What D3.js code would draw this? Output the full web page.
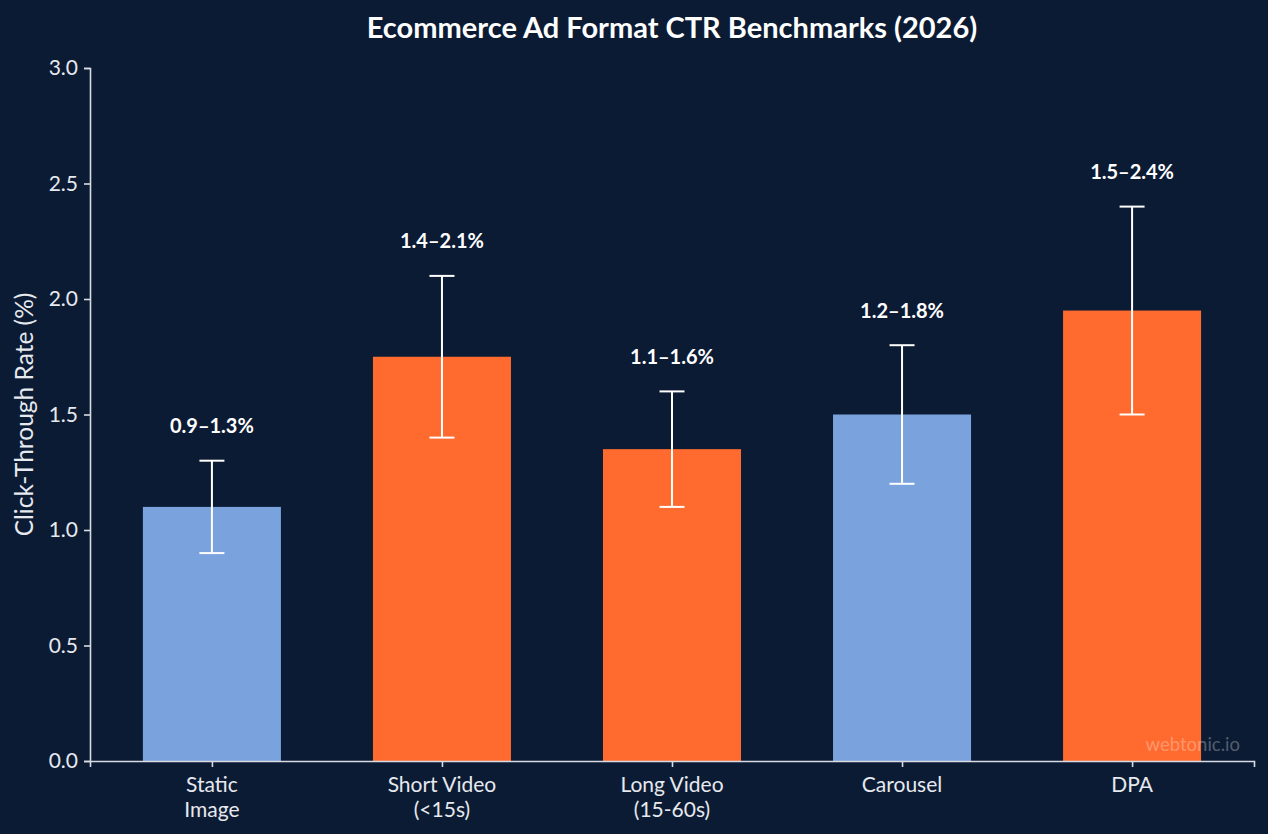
<!DOCTYPE html>
<html>
<head>
<meta charset="utf-8">
<script src="https://cdn.jsdelivr.net/npm/d3@7"></script>
<style>
  body { margin: 0; background: #0c1b34; }
  svg { display: block; font-family: Lato, "Open Sans", sans-serif; }
</style>
</head>
<body>
<svg id="chart"></svg>
<script>
// chart data
var categories = ['Static\nImage', 'Short Video\n(<15s)', 'Long Video\n(15-60s)', 'Carousel', 'DPA'];
var midValues = [1.1, 1.75, 1.35, 1.5, 1.95];
var lowValues = [0.9, 1.4, 1.1, 1.2, 1.5];
var highValues = [1.3, 2.1, 1.6, 1.8, 2.4];
var rangeLabels = ['0.9–1.3%', '1.4–2.1%', '1.1–1.6%', '1.2–1.8%', '1.5–2.4%'];
var barColors = ['#7aa2dc', '#ff6b2f', '#ff6b2f', '#7aa2dc', '#ff6b2f'];
var yTicks = [0, 0.5, 1.0, 1.5, 2.0, 2.5, 3.0];

var W = 1268, H = 834;
var margin = {top: 68, right: 14, bottom: 73, left: 90};

var svg = d3.select('#chart')
    .attr('width', W)
    .attr('height', H);

svg.append('rect')
    .attr('width', W)
    .attr('height', H)
    .attr('fill', '#0c1b34');

var data = categories.map(function (c, i) {
    return {name: c, mid: midValues[i], low: lowValues[i], high: highValues[i], label: rangeLabels[i], color: barColors[i], idx: i};
});

// index-based x positions, bar width 0.6
var x = d3.scaleLinear()
    .domain([-0.53, categories.length - 1 + 0.53])
    .range([margin.left, W - margin.right]);
var barW = 0.6;

var y = d3.scaleLinear()
    .domain([0, 3])
    .range([H - margin.bottom, margin.top]);

// bars
svg.selectAll('.bar')
    .data(data)
    .enter()
    .append('rect')
    .attr('class', 'bar')
    .attr('x', d => x(d.idx - barW / 2))
    .attr('width', d => x(d.idx + barW / 2) - x(d.idx - barW / 2))
    .attr('y', d => y(d.mid))
    .attr('height', d => y(0) - y(d.mid))
    .attr('fill', d => d.color);

// error bars
var cap = 12.5;
var err = svg.selectAll('.err')
    .data(data)
    .enter()
    .append('g')
    .attr('class', 'err')
    .attr('stroke', '#ffffff')
    .attr('stroke-width', 2);

err.append('line')
    .attr('x1', d => x(d.idx))
    .attr('x2', d => x(d.idx))
    .attr('y1', d => y(d.low))
    .attr('y2', d => y(d.high));

err.append('line')
    .attr('x1', d => x(d.idx) - cap)
    .attr('x2', d => x(d.idx) + cap)
    .attr('y1', d => y(d.high))
    .attr('y2', d => y(d.high));

err.append('line')
    .attr('x1', d => x(d.idx) - cap)
    .attr('x2', d => x(d.idx) + cap)
    .attr('y1', d => y(d.low))
    .attr('y2', d => y(d.low));

// range labels
svg.selectAll('.range-label')
    .data(data)
    .enter()
    .append('text')
    .attr('class', 'range-label')
    .attr('x', d => x(d.idx))
    .attr('y', d => y(d.high + 0.15))
    .attr('dy', '0.35em')
    .attr('text-anchor', 'middle')
    .attr('fill', '#ffffff')
    .style('font-size', '20px')
    .style('font-weight', 'bold')
    .text(d => d.label);

// axes
var axisColor = '#d8dce2';
var yAxis = svg.append('g')
    .attr('transform', `translate(${margin.left},0)`)
    .call(d3.axisLeft(y).tickValues(yTicks).tickFormat(d3.format('.1f')).tickSize(6).tickPadding(6));

var xAxis = svg.append('g')
    .attr('transform', `translate(0,${y(0)})`)
    .call(d3.axisBottom(x).tickValues(d3.range(categories.length)).tickFormat('').tickSize(6));

[xAxis, yAxis].forEach(function (g) {
    g.select('.domain').attr('stroke', axisColor).attr('stroke-width', 1.6);
    g.selectAll('.tick line').attr('stroke', axisColor).attr('stroke-width', 1.6);
});
yAxis.selectAll('.tick text')
    .attr('fill', '#e6e9ee')
    .style('font-size', '21px')
    .style('font-family', 'Lato, sans-serif');

// multi-line category labels
var xLabels = svg.selectAll('.x-label')
    .data(data)
    .enter()
    .append('text')
    .attr('class', 'x-label')
    .attr('text-anchor', 'middle')
    .attr('fill', '#e6e9ee')
    .style('font-size', '21px');

xLabels.each(function (d) {
    var t = d3.select(this);
    d.name.split('\n').forEach(function (line, k) {
        t.append('tspan')
            .attr('x', x(d.idx))
            .attr('y', y(0) + 31 + k * 24.5)
            .text(line);
    });
});

// y axis title
svg.append('text')
    .attr('transform', `translate(33,${(y(0) + y(3)) / 2}) rotate(-90)`)
    .attr('text-anchor', 'middle')
    .attr('fill', '#e6e9ee')
    .style('font-size', '24.5px')
    .text('Click-Through Rate (%)');

// title
svg.append('text')
    .attr('x', (margin.left + W - margin.right) / 2)
    .attr('y', 38)
    .attr('text-anchor', 'middle')
    .attr('fill', '#ffffff')
    .style('font-size', '29px')
    .style('font-weight', 'bold')
    .text('Ecommerce Ad Format CTR Benchmarks (2026)');

// watermark
svg.append('text')
    .attr('x', W - 28)
    .attr('y', 751)
    .attr('text-anchor', 'end')
    .attr('fill', '#ffffff')
    .attr('fill-opacity', 0.3)
    .style('font-size', '18.5px')
    .text('webtonic.io');
</script>
</body>
</html>
